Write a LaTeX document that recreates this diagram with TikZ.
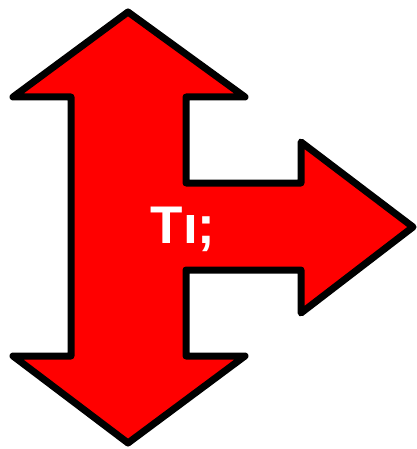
\documentclass[tikz,border=0pt]{standalone}
\usepackage{fontspec}
\setmainfont{Liberation Sans}
\begin{document}
\begin{tikzpicture}[x=1pt,y=-1pt,
  arrowshape/.style={draw=black,fill=red,line width=7pt,line join=round},
  lbl/.style={text=white,font=\fontsize{53}{60}\selectfont\bfseries,inner sep=0pt,anchor=base}]
\useasboundingbox (0,0) rectangle (416,449);
\draw[arrowshape] (128,12) -- (245,97) -- (186,97) -- (186,183) -- (301,183) -- (301,142)
  -- (413,227) -- (301,313) -- (301,270) -- (186,270) -- (186,356) -- (245,356)
  -- (128,443) -- (13,356) -- (71,356) -- (71,97) -- (13,97) -- cycle;
\node[lbl] (t) at (183,243) {Tı;};
\end{tikzpicture}
\end{document}
